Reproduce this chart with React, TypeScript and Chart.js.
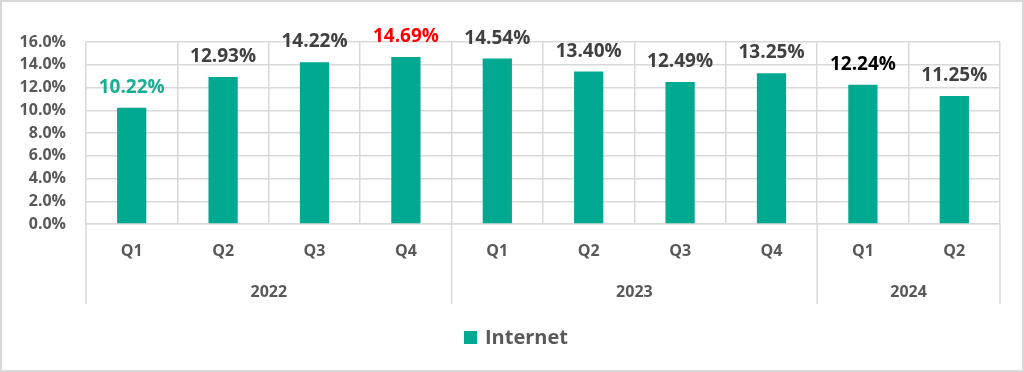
import React, { useEffect, useRef } from "react";
import { Chart, registerables } from "chart.js";

Chart.register(...registerables);

const quarters = ["Q1", "Q2", "Q3", "Q4", "Q1", "Q2", "Q3", "Q4", "Q1", "Q2"];
const years = ["2022", "2023", "2024"];
const yearSpans = [4, 4, 2];
const internet = [10.22, 12.93, 14.22, 14.69, 14.54, 13.4, 12.49, 13.25, 12.24, 11.25];
const labelColors = [
  "#1AAE93", "#404040", "#404040", "#FF0000", "#404040",
  "#404040", "#404040", "#404040", "#000000", "#404040",
];
const yMax = 16;
const yStep = 2;
const seriesName = "Internet";

const BAR = "#00A98F";
const GRID = "#D9D9D9";
const TEXT = "#595959";
const FONT = "'Open Sans', 'Noto Sans', sans-serif";

const extras = {
  id: "extras",
  beforeDraw(chart: any) {
    const ctx = chart.ctx;
    ctx.save();
    ctx.fillStyle = "#ffffff";
    ctx.fillRect(0, 0, chart.width, chart.height);
    ctx.restore();
  },
  afterDraw(chart: any) {
    const ctx = chart.ctx;
    const x = chart.scales.x;
    const area = chart.chartArea;
    const meta = chart.getDatasetMeta(0);
    ctx.save();
    // data labels
    ctx.font = `bold 19px ${FONT}`;
    ctx.textAlign = "center";
    ctx.textBaseline = "alphabetic";
    meta.data.forEach((bar: any, i: number) => {
      ctx.fillStyle = labelColors[i];
      ctx.fillText(internet[i].toFixed(2) + "%", bar.x, bar.y - 15);
    });
    // year separators & labels
    const half = (x.getPixelForValue(1) - x.getPixelForValue(0)) / 2;
    const sepBottom = area.bottom + 80;
    ctx.strokeStyle = GRID;
    ctx.lineWidth = 1.5;
    let idx = 0;
    const bounds: number[] = [x.getPixelForValue(0) - half];
    yearSpans.forEach((s) => {
      idx += s;
      bounds.push(x.getPixelForValue(idx - 1) + half);
    });
    bounds.forEach((b) => {
      ctx.beginPath();
      ctx.moveTo(b, area.bottom);
      ctx.lineTo(b, sepBottom);
      ctx.stroke();
    });
    ctx.font = `bold 16px ${FONT}`;
    ctx.fillStyle = TEXT;
    ctx.textBaseline = "middle";
    years.forEach((y, i) => {
      ctx.fillText(y, (bounds[i] + bounds[i + 1]) / 2, area.bottom + 68);
    });
    // legend
    ctx.fillStyle = BAR;
    ctx.fillRect(464, 331, 13, 13);
    ctx.fillStyle = TEXT;
    ctx.font = `bold 20px ${FONT}`;
    ctx.textAlign = "left";
    ctx.fillText(seriesName, 485, 338);
    // outer border
    ctx.strokeStyle = "#D9D9D9";
    ctx.lineWidth = 2;
    ctx.strokeRect(1, 1, chart.width - 2, chart.height - 2);
    ctx.restore();
  },
};

export default function App() {
  const ref = useRef<HTMLCanvasElement>(null);
  useEffect(() => {
    document.body.style.margin = "0";
    const chart = new Chart(ref.current!, {
      type: "bar",
      data: {
        labels: quarters,
        datasets: [
          {
            label: seriesName,
            data: internet,
            backgroundColor: BAR,
            categoryPercentage: 1,
            barPercentage: 0.32,
          },
        ],
      },
      options: {
        responsive: false,
        animation: false,
        layout: { padding: { top: 42, right: 24, bottom: 68, left: 0 } },
        plugins: { legend: { display: false }, tooltip: { enabled: false } },
        scales: {
          x: {
            grid: { color: GRID, lineWidth: 1.5, drawTicks: false },
            border: { color: GRID, width: 1.5 },
            ticks: { color: TEXT, font: { family: FONT, size: 16, weight: "bold" }, padding: 18 },
            afterFit: (s: any) => {
              s.height = 80;
            },
          },
          y: {
            min: 0,
            max: yMax,
            grid: { color: GRID, lineWidth: 1.5, drawTicks: false },
            border: { display: false },
            ticks: {
              stepSize: yStep,
              color: TEXT,
              padding: 20,
              font: { family: FONT, size: 16, weight: "bold" },
              callback: (v: any) => Number(v).toFixed(1) + "%",
            },
            afterFit: (s: any) => {
              s.width = 86;
            },
          },
        },
      },
      plugins: [extras],
    });
    return () => chart.destroy();
  }, []);
  return <canvas ref={ref} width={1024} height={372} style={{ display: "block" }} />;
}
